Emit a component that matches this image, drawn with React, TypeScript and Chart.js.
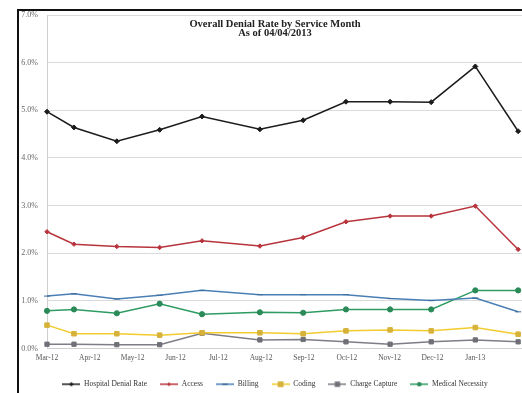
import React, { useEffect, useRef } from 'react';
import { Chart, registerables } from 'chart.js';

Chart.register(...registerables);

const titleLines = ['Overall Denial Rate by Service Month', 'As of 04/04/2013'];
const months = ['Mar-12', 'Apr-12', 'May-12', 'Jun-12', 'Jul-12', 'Aug-12', 'Sep-12', 'Oct-12', 'Nov-12', 'Dec-12', 'Jan-13', 'Feb-13'];
// position of each service-month point on the month axis
const monthPos = [0, 0.63, 1.63, 2.63, 3.62, 4.97, 5.98, 6.98, 8.01, 8.97, 10.0, 11.0];

const hospital = [4.97, 4.64, 4.35, 4.59, 4.87, 4.6, 4.79, 5.18, 5.18, 5.17, 5.92, 4.56];
const access = [2.45, 2.19, 2.14, 2.12, 2.26, 2.15, 2.33, 2.66, 2.78, 2.78, 2.99, 2.08];
const billing = [1.1, 1.15, 1.04, 1.12, 1.22, 1.13, 1.13, 1.13, 1.05, 1.01, 1.06, 0.77];
const coding = [0.49, 0.31, 0.31, 0.28, 0.33, 0.33, 0.31, 0.37, 0.39, 0.37, 0.44, 0.3];
const chargeCapture = [0.09, 0.09, 0.08, 0.08, 0.32, 0.18, 0.19, 0.14, 0.09, 0.14, 0.18, 0.14];
const medicalNecessity = [0.79, 0.82, 0.74, 0.94, 0.72, 0.76, 0.75, 0.82, 0.82, 0.82, 1.22, 1.22];

const FONT = '"Liberation Serif", "Times New Roman", serif';

type Series = { name: string; values: number[]; color: string; marker: string; style: string; radius: number };

const series: Series[] = [
  { name: 'Hospital Denial Rate', values: hospital, color: '#1c1c1c', marker: '#1c1c1c', style: 'rectRot', radius: 2.5 },
  { name: 'Access', values: access, color: '#b8343c', marker: '#b8343c', style: 'rectRot', radius: 2.2 },
  { name: 'Billing', values: billing, color: '#4a7fb5', marker: '#3a6a9c', style: 'line', radius: 3 },
  { name: 'Coding', values: coding, color: '#f2cb2e', marker: '#d6b23a', style: 'rect', radius: 3.2 },
  { name: 'Charge Capture', values: chargeCapture, color: '#7d7d85', marker: '#6f6f77', style: 'rect', radius: 3 },
  { name: 'Medical Necessity', values: medicalNecessity, color: '#2e9c62', marker: '#2a8a58', style: 'circle', radius: 2.6 },
];

function makeIcon(s: Series): HTMLCanvasElement {
  const c = document.createElement('canvas');
  c.width = 18;
  c.height = 8;
  const ctx = c.getContext('2d')!;
  ctx.strokeStyle = s.color;
  ctx.lineWidth = 1.5;
  ctx.beginPath();
  ctx.moveTo(0, 4);
  ctx.lineTo(18, 4);
  ctx.stroke();
  ctx.fillStyle = s.marker;
  const r = s.radius * 0.9;
  ctx.beginPath();
  if (s.style === 'rect') {
    ctx.rect(9 - r, 4 - r, 2 * r, 2 * r);
  } else if (s.style === 'rectRot') {
    ctx.moveTo(9, 4 - r);
    ctx.lineTo(9 + r, 4);
    ctx.lineTo(9, 4 + r);
    ctx.lineTo(9 - r, 4);
    ctx.closePath();
  } else if (s.style === 'circle') {
    ctx.arc(9, 4, r, 0, Math.PI * 2);
  } else {
    ctx.rect(9 - r, 3.2, 2 * r, 1.6);
  }
  ctx.fill();
  return c;
}

const titlePlugin = {
  id: 'innerTitle',
  afterDraw(chart: any) {
    const ctx = chart.ctx;
    const lg = chart.legend;
    const cx = lg ? (lg.left + lg.right) / 2 : (chart.chartArea.left + chart.chartArea.right) / 2;
    ctx.save();
    ctx.font = `bold 10.5px ${FONT}`;
    ctx.fillStyle = '#222';
    ctx.textAlign = 'center';
    ctx.textBaseline = 'middle';
    titleLines.forEach((t, i) => ctx.fillText(t, cx, chart.chartArea.top + 9 + i * 9.5));
    ctx.restore();
  },
};

export default function App() {
  const ref = useRef<HTMLCanvasElement>(null);

  useEffect(() => {
    const icons = series.map(makeIcon);
    const chart = new Chart(ref.current!, {
      type: 'line',
      data: {
        datasets: series.map((s) => ({
          label: s.name,
          data: s.values.map((v, i) => ({ x: monthPos[i], y: v })),
          borderColor: s.color,
          backgroundColor: s.marker,
          pointBackgroundColor: s.marker,
          pointBorderColor: s.marker,
          pointStyle: s.style as any,
          pointRadius: s.radius,
          pointBorderWidth: 1,
          borderWidth: 1.5,
          tension: 0,
          clip: false as any,
        })),
      },
      options: {
        responsive: false,
        animation: false,
        layout: { padding: { left: 19, top: 15, right: 29, bottom: 7 } },
        scales: {
          x: {
            type: 'linear',
            min: 0,
            max: 11.3,
            afterBuildTicks: (s: any) => {
              s.ticks = s.ticks.filter((t: any) => Number.isInteger(t.value));
            },
            ticks: {
              stepSize: 1,
              autoSkip: false,
              maxRotation: 0,
              padding: 5,
              color: '#555',
              font: { size: 7.5, family: FONT },
              callback: (v: any) => months[v] ?? '',
            },
            grid: { display: false, drawTicks: false },
            border: { color: '#cfcfcf' },
          },
          y: {
            min: 0,
            max: 7,
            afterFit: (s: any) => {
              s.width = 28;
            },
            ticks: {
              stepSize: 1,
              padding: 9,
              color: '#666',
              font: { size: 8, family: FONT },
              callback: (v: any) => Number(v).toFixed(1) + '%',
            },
            grid: { color: '#dadada', drawTicks: false },
            border: { color: '#cfcfcf' },
          },
        },
        plugins: {
          title: { display: false },
          tooltip: { enabled: false },
          legend: {
            position: 'bottom',
            labels: {
              usePointStyle: true,
              pointStyleWidth: 18,
              boxHeight: 8,
              padding: 13,
              color: '#333',
              font: { size: 7.5, family: FONT },
              generateLabels: (c: any) =>
                Chart.defaults.plugins.legend.labels.generateLabels(c).map((l: any, i: number) => ({
                  ...l,
                  pointStyle: icons[i],
                })),
            },
          },
        },
      },
      plugins: [titlePlugin],
    });
    return () => chart.destroy();
  }, []);

  return (
    <div style={{ position: 'fixed', left: 0, top: 0, width: 522, height: 393, overflow: 'hidden', background: '#fff' }}>
      <div style={{ position: 'absolute', left: 0, top: 0, width: 560, height: 405 }}>
        <canvas ref={ref} width={560} height={405} style={{ display: 'block' }} />
      </div>
      <div
        style={{
          position: 'absolute',
          left: 17,
          top: 9,
          width: 600,
          height: 500,
          border: '2px solid #111',
          pointerEvents: 'none',
        }}
      />
    </div>
  );
}
